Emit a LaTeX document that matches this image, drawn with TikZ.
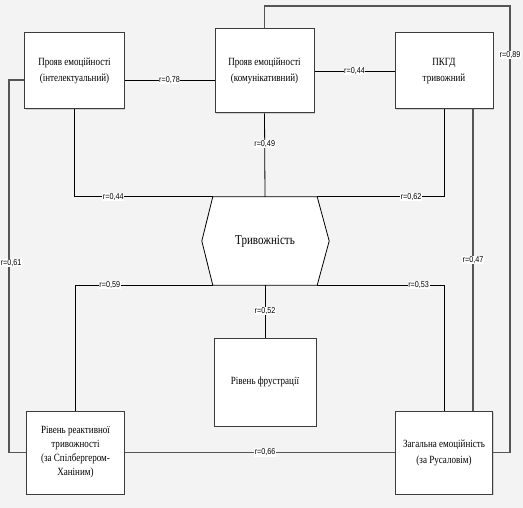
\documentclass[tikz,border=0pt]{standalone}
\usepackage{fontspec}
\newfontfamily\boxfont{Liberation Serif}[FakeStretch=0.82]
\newfontfamily\corrfont{Liberation Sans}[FakeStretch=0.85]
\usetikzlibrary{positioning,calc,backgrounds,shadows}
\definecolor{bggrey}{RGB}{243,243,243}
\definecolor{rimgrey}{RGB}{60,60,60}
\definecolor{linegrey}{RGB}{85,85,85}
\tikzset{
  box/.style={draw=rimgrey, fill=white, line width=1bp, align=center, inner sep=2bp,
    drop shadow={shadow xshift=1bp, shadow yshift=-1bp, opacity=0.3},
    font=\boxfont\fontsize{11bp}{16bp}\selectfont},
  hexbox/.style={align=center, inner sep=2bp, minimum width=104bp, minimum height=88bp,
    font=\boxfont\fontsize{13.5bp}{16bp}\selectfont},
  corr/.style={fill=white, inner sep=0.6bp, font=\corrfont\fontsize{8.5bp}{9bp}\selectfont},
  link/.style={draw=black, line width=0.8bp},
  greylink/.style={draw=linegrey, line width=1.3bp}
}
\begin{document}
\begin{tikzpicture}[x=1bp, y=-1bp]
\useasboundingbox (0,0) rectangle (523,508);
\node[box, minimum width=99bp, minimum height=76bp] (b1) at (74.5,71) {Прояв емоційності\\(інтелектуальний)};
\node[box, minimum width=99bp, minimum height=84bp] (b2) at (264.5,71) {Прояв емоційності\\(комунікативний)};
\node[box, minimum width=98bp, minimum height=76bp] (b3) at (444,71) {ПКГД\\тривожний};
\node[hexbox] (tr) at (265,241) {Тривожність};
\node[box, minimum width=102bp, minimum height=88bp] (fr) at (265,382) {Рівень фрустрації};
\node[box, minimum width=97bp, minimum height=83bp, font=\boxfont\fontsize{11bp}{14bp}\selectfont] (rt) at (75.5,452.5) {Рівень реактивної\\тривожності\\(за Спілбергером-\\Ханіним)};
\node[box, minimum width=97bp, minimum height=83bp] (ze) at (444,452.5) {Загальна емоційність\\(за Русаловім)};

\begin{scope}[on background layer]
\fill[bggrey] (0,0) rectangle (523,508);
\draw[fill=white, line width=0.8bp] (tr.north west) -- ([xshift=-11bp]tr.west) -- (tr.south west)
  -- (tr.south east) -- ([xshift=12bp]tr.east) -- (tr.north east) -- cycle;
\end{scope}

\coordinate (l1) at ([yshift=-9bp]b1.east);
\coordinate (l2) at ([yshift=-9bp]b1.west);
\draw[link] (l1) -- node[corr]{r=0,78} (l1 -| b2.west);
\draw[link] (b2.east) -- node[corr]{r=0,44} (b3.west);
\draw[greylink] (l2) -| (9,263) node[corr, xshift=2bp]{r=0,61} |- (rt.west);
\draw[greylink] (b2.north) |- (510,6) -- (510,55) node[corr]{r=0,89} |- (ze.east);
\draw[link] (b1.south) |- node[corr, pos=0.64]{r=0,44} (tr.north west);
\draw[link] (b2.south) -- node[corr, pos=0.37]{r=0,49} (tr.north);
\draw[link] (b3.south) |- node[corr, pos=0.63]{r=0,62} (tr.north east);
\draw[greylink] ([xshift=29bp]b3.south) -- node[corr]{r=0,47} ([xshift=29bp]ze.north);
\draw[link] (tr.south west) -| node[corr, pos=0.375]{r=0,59} (rt.north);
\draw[link] (tr.south east) -| node[corr, pos=0.4]{r=0,53} (ze.north);
\draw[link] (tr.south) -- node[corr]{r=0,52} (fr.north);
\draw[greylink] (rt.east) -- node[corr, pos=0.52]{r=0,66} (ze.west);
\end{tikzpicture}
\end{document}
